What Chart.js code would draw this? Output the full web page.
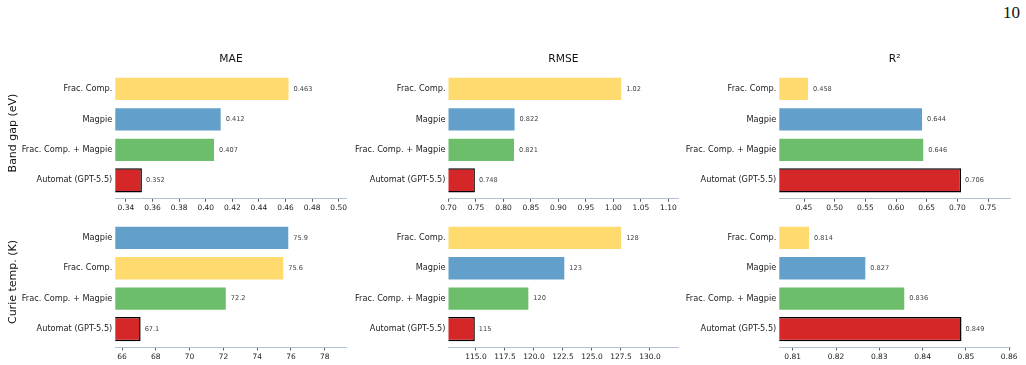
<!DOCTYPE html>
<html>
<head>
<meta charset="utf-8">
<script src="https://cdn.jsdelivr.net/npm/chart.js@4.4.1/dist/chart.umd.min.js"></script>
<style>
  html, body { margin: 0; padding: 0; background: #fff; }
  body { width: 1026px; height: 365px; position: relative; overflow: hidden;
         font-family: 'DejaVu Sans', sans-serif; color: #111; }
  canvas { position: absolute; }
  .title { position: absolute; font-size: 10.7px; line-height: 1; transform: translate(-50%, -50%); white-space: nowrap; }
  .rowlab { position: absolute; font-size: 11px; line-height: 1; transform: translate(-50%, -50%) rotate(-90deg); white-space: nowrap; }
  .page { position: absolute; right: 6px; top: 4px; font-family: 'Liberation Serif', serif; font-size: 17px; line-height: 1; }
</style>
</head>
<body>
<div class="page">10</div>
<script>
'use strict';

// ── Data ────────────────────────────────────────────────
var METHODS       = ['Frac. Comp.', 'Magpie', 'Frac. Comp. + Magpie', 'Automat (GPT-5.5)'];
var METHOD_COLORS = ['#FFDA6E', '#62A0CB', '#6CBE6B', '#D62728'];
var ROW_LABELS    = ['Band gap (eV)', 'Curie temp. (K)'];
var METRICS       = ['MAE', 'RMSE', 'R²'];

// values, in METHODS order
var bandMae   = [0.463, 0.412, 0.407, 0.352];
var bandRmse  = [1.016, 0.822, 0.821, 0.748];
var bandR2    = [0.458, 0.644, 0.646, 0.706];
var curieMae  = [75.6, 75.9, 72.2, 67.1];
var curieRmse = [127.6, 122.7, 119.6, 114.9];
var curieR2   = [0.814, 0.827, 0.836, 0.849];

// bar order top -> bottom (indices into METHODS)
var defaultOrder  = [0, 1, 2, 3];
var curieMaeOrder = [1, 0, 2, 3];

// x tick values
var bandMaeTicks   = [0.34, 0.36, 0.38, 0.40, 0.42, 0.44, 0.46, 0.48, 0.50];
var bandRmseTicks  = [0.70, 0.75, 0.80, 0.85, 0.90, 0.95, 1.00, 1.05, 1.10];
var bandR2Ticks    = [0.45, 0.50, 0.55, 0.60, 0.65, 0.70, 0.75];
var curieMaeTicks  = [66, 68, 70, 72, 74, 76, 78];
var curieRmseTicks = [115.0, 117.5, 120.0, 122.5, 125.0, 127.5, 130.0];
var curieR2Ticks   = [0.81, 0.82, 0.83, 0.84, 0.85, 0.86];

// ── Layout ──────────────────────────────────────────────
var COLS = [{ l: 115.3, r: 346.7 }, { l: 448.5, r: 678.3 }, { l: 779.3, r: 1010 }];
var ROWS = [{ t: 67.3, b: 198.3 }, { t: 216, b: 347 }];

var PANELS = [
  { row: 0, col: 0, vals: bandMae,   order: defaultOrder,  ticks: bandMaeTicks,   dec: 2, min: 0.332,  max: 0.506 },
  { row: 0, col: 1, vals: bandRmse,  order: defaultOrder,  ticks: bandRmseTicks,  dec: 2, min: 0.700,  max: 1.118 },
  { row: 0, col: 2, vals: bandR2,    order: defaultOrder,  ticks: bandR2Ticks,    dec: 2, min: 0.4097, max: 0.7858 },
  { row: 1, col: 0, vals: curieMae,  order: curieMaeOrder, ticks: curieMaeTicks,  dec: 0, min: 65.6,   max: 79.3 },
  { row: 1, col: 1, vals: curieRmse, order: defaultOrder,  ticks: curieRmseTicks, dec: 1, min: 112.63, max: 132.44 },
  { row: 1, col: 2, vals: curieR2,   order: defaultOrder,  ticks: curieR2Ticks,   dec: 2, min: 0.8069, max: 0.8602 }
];

Chart.defaults.font.family = "'DejaVu Sans', sans-serif";
Chart.defaults.color = '#222';

// ── Value labels ────────────────────────────────────────
var valueLabels = {
  id: 'valueLabels',
  afterDatasetsDraw: function (chart) {
    var ctx  = chart.ctx;
    var meta = chart.getDatasetMeta(0);
    var ds   = chart.data.datasets[0];
    ctx.save();
    ctx.font = "6.6px 'DejaVu Sans', sans-serif";
    ctx.fillStyle = '#444';
    ctx.textBaseline = 'middle';
    meta.data.forEach(function (bar, i) {
      ctx.fillText(ds.data[i].x.toPrecision(3), bar.x + 4, bar.y);
    });
    ctx.restore();
  }
};

function addText(cls, text, x, y) {
  var d = document.createElement('div');
  d.className = cls;
  d.textContent = text;
  d.style.left = x + 'px';
  d.style.top  = y + 'px';
  document.body.appendChild(d);
}

// ── Panels ──────────────────────────────────────────────
function makePanel(p) {
  var g  = { l: COLS[p.col].l, r: COLS[p.col].r, t: ROWS[p.row].t, b: ROWS[p.row].b };
  var x0 = Math.floor(g.l - 118), x1 = Math.min(1026, Math.ceil(g.r + 14));
  var y0 = Math.floor(g.t - 4),   y1 = Math.ceil(g.b + 20);

  var canvas = document.createElement('canvas');
  canvas.width  = x1 - x0;
  canvas.height = y1 - y0;
  canvas.style.left = x0 + 'px';
  canvas.style.top  = y0 + 'px';
  document.body.appendChild(canvas);

  var order = p.order;

  new Chart(canvas, {
    type: 'bar',
    data: {
      datasets: [{
        data: order.map(function (m, i) { return { x: p.vals[m], y: i }; }),
        backgroundColor: order.map(function (m) { return METHOD_COLORS[m]; }),
        borderColor: order.map(function (m) { return m === 3 ? '#000' : '#fff'; }),
        borderWidth: order.map(function (m) { return m === 3 ? 1.5 : 1; }),
        borderSkipped: false,
        categoryPercentage: 1,
        barPercentage: 0.8
      }]
    },
    options: {
      responsive: false,
      animation: false,
      indexAxis: 'y',
      layout: { padding: { left: 0, top: g.t - y0, right: x1 - g.r, bottom: 0 } },
      plugins: { legend: { display: false }, tooltip: { enabled: false } },
      scales: {
        x: {
          type: 'linear',
          offset: false,
          min: p.min,
          max: p.max,
          afterBuildTicks: function (s) { s.ticks = p.ticks.map(function (v) { return { value: v }; }); },
          afterFit: function (s) { s.height = y1 - g.b; },
          grid: { offset: false, drawOnChartArea: false, drawTicks: true, tickLength: 3.5, color: '#333', lineWidth: 0.8 },
          border: { color: '#b3bfd6', width: 1 },
          ticks: {
            padding: 2, color: '#222', font: { size: 7.5 }, maxRotation: 0, autoSkip: false,
            callback: function (v) { return Number(v).toFixed(p.dec); }
          }
        },
        y: {
          type: 'linear',
          offset: false,
          min: -0.59,
          max: 3.59,
          reverse: true,
          afterBuildTicks: function (s) { s.ticks = order.map(function (m, i) { return { value: i }; }); },
          afterFit: function (s) { s.width = g.l - x0; },
          grid: { offset: false, display: false, drawTicks: false },
          border: { display: false },
          ticks: {
            padding: 3, color: '#222', font: { size: 8.2 }, autoSkip: false,
            callback: function (v) { return METHODS[order[v]]; }
          }
        }
      }
    },
    plugins: [valueLabels]
  });
}

PANELS.forEach(makePanel);

// ── Titles & row labels ─────────────────────────────────
METRICS.forEach(function (m, c) { addText('title', m, (COLS[c].l + COLS[c].r) / 2, 59); });
addText('rowlab', ROW_LABELS[0], 12, 133);
addText('rowlab', ROW_LABELS[1], 12, 282);
</script>
</body>
</html>
